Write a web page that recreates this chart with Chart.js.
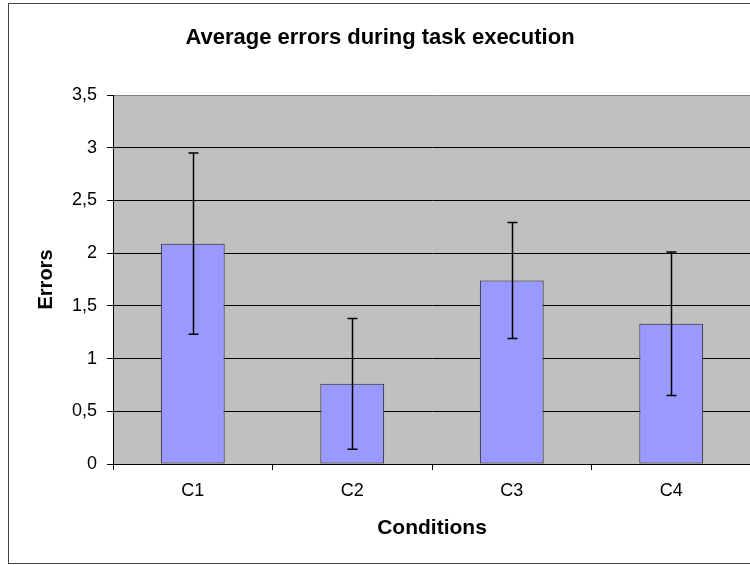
<!DOCTYPE html>
<html>
<head>
<meta charset="utf-8">
<script src="https://cdn.jsdelivr.net/npm/chart.js@4.4.1/dist/chart.umd.min.js"></script>
<style>
  html, body { margin: 0; padding: 0; background: #fff; overflow: hidden; }
  #frame {
    position: absolute; left: 8px; top: 3px;
    width: 752px; height: 559px;
    border: 1px solid #444;
    background: #fff;
  }
  #chart { display: block; }
</style>
</head>
<body>
<div id="frame"><canvas id="chart" width="752" height="559"></canvas></div>
<script>
  const conditions = ["C1", "C2", "C3", "C4"];
  const avgErrors = [2.09, 0.76, 1.74, 1.33];
  const errorSpread = [0.86, 0.62, 0.55, 0.68];

  const fontFamily = "'Liberation Sans', Arial, sans-serif";

  // grey plot background, drawn under the grid lines
  const plotBackground = {
    id: 'plotBackground',
    beforeDraw(chart) {
      const { ctx, chartArea: a } = chart;
      ctx.save();
      ctx.fillStyle = '#c0c0c0';
      ctx.fillRect(a.left, a.top, a.right - a.left, a.bottom - a.top);
      ctx.restore();
    }
  };

  // +/- error bars on top of each bar
  const errorBars = {
    id: 'errorBars',
    afterDatasetsDraw(chart) {
      const { ctx } = chart;
      const y = chart.scales.y;
      const meta = chart.getDatasetMeta(0);
      ctx.save();
      ctx.strokeStyle = '#000';
      ctx.lineWidth = 1.5;
      meta.data.forEach((bar, i) => {
        const x = Math.round(bar.x) + 0.5;
        const hi = y.getPixelForValue(avgErrors[i] + errorSpread[i]);
        const lo = y.getPixelForValue(avgErrors[i] - errorSpread[i]);
        ctx.beginPath();
        ctx.moveTo(x, hi);
        ctx.lineTo(x, lo);
        ctx.moveTo(x - 5, hi);
        ctx.lineTo(x + 5, hi);
        ctx.moveTo(x - 5, lo);
        ctx.lineTo(x + 5, lo);
        ctx.stroke();
      });
      ctx.restore();
    }
  };

  new Chart(document.getElementById('chart'), {
    type: 'bar',
    data: {
      labels: conditions,
      datasets: [{
        data: avgErrors,
        backgroundColor: '#9999ff',
        borderColor: '#222',
        borderWidth: 1,
        borderSkipped: false,
        barPercentage: 0.4,
        categoryPercentage: 1
      }]
    },
    options: {
      responsive: false,
      animation: false,
      layout: { padding: { left: 0, right: 10, top: 0, bottom: 0 } },
      plugins: {
        legend: { display: false },
        tooltip: { enabled: false },
        title: {
          display: true,
          text: 'Average errors during task execution',
          color: '#000',
          font: { family: fontFamily, size: 22, weight: 'bold' },
          padding: { top: 21, bottom: 43.6 }
        }
      },
      scales: {
        x: {
          grid: {
            offset: true,
            drawOnChartArea: false,
            tickLength: 6,
            tickColor: '#000'
          },
          border: { color: '#000', width: 1 },
          ticks: {
            color: '#000',
            padding: 10,
            font: { family: fontFamily, size: 18 }
          },
          title: {
            display: true,
            text: 'Conditions',
            color: '#000',
            font: { family: fontFamily, size: 21, weight: 'bold' },
            padding: { top: 0, bottom: 22 }
          },
          afterFit(scale) { scale.height = 99; }
        },
        y: {
          min: 0,
          max: 3.5,
          grid: {
            color: ctx => ctx.tick && ctx.tick.value === 3.5 ? '#808080' : '#000',
            tickLength: 6,
            tickColor: '#000'
          },
          border: { color: '#000', width: 1 },
          ticks: {
            stepSize: 0.5,
            color: '#000',
            padding: 10,
            font: { family: fontFamily, size: 18 },
            callback: v => String(v).replace('.', ',')
          },
          title: {
            display: true,
            text: 'Errors',
            color: '#000',
            font: { family: fontFamily, size: 20, weight: 'bold' },
            padding: { top: 25, bottom: 0 }
          },
          afterFit(scale) { scale.width = 104; }
        }
      }
    },
    plugins: [plotBackground, errorBars]
  });
</script>
</body>
</html>
